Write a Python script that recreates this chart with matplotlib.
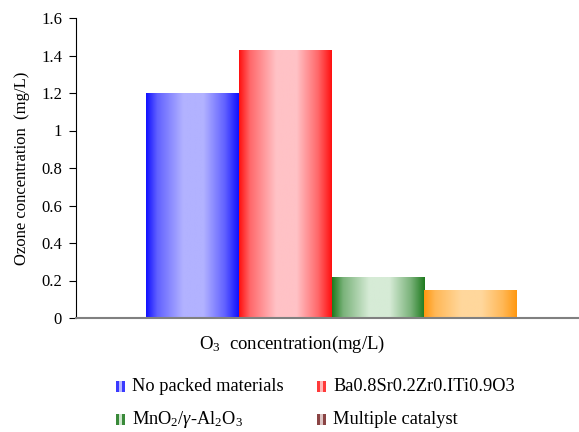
import matplotlib
matplotlib.use("Agg")
import matplotlib.pyplot as plt
import numpy as np
from matplotlib.patches import Rectangle
from matplotlib.colors import to_rgb

plt.rcParams['font.family'] = ['Liberation Serif', 'DejaVu Serif']
plt.rcParams['mathtext.fontset'] = 'custom'
plt.rcParams['mathtext.rm'] = 'Liberation Serif'
plt.rcParams['mathtext.it'] = 'Liberation Serif:italic'

# ozone concentration for each packing
labels = ['No packed materials', 'Ba0.8Sr0.2Zr0.ITi0.9O3',
          r'MnO$_2$/$\gamma$-Al$_2$O$_3$', 'Multiple catalyst']
values = [1.20, 1.43, 0.22, 0.15]
yticks = [0, 0.2, 0.4, 0.6, 0.8, 1, 1.2, 1.4, 1.6]

# gradient colours: (edge, middle)
bar_cols = [('#1010ff', '#b2b2ff'), ('#ff1010', '#ffc2c6'),
            ('#1e7a1e', '#d6ebd6'), ('#ff9810', '#ffd79c')]
key_cols = [('#3a3aff', '#b8b8ff'), ('#ff3a3a', '#ffb8b8'),
            ('#3a8a3a', '#cfe6cf'), ('#8a4444', '#dcc4c4')]


def gradient(edge, mid, n=200):
    e = np.array(to_rgb(edge))
    m = np.array(to_rgb(mid))
    t = np.linspace(0, 1, n)
    # dark edges, light band a bit left of centre
    w = np.interp(t, [0, 0.12, 0.4, 0.62, 0.85, 1.0], [0, 0.5, 1, 1, 0.5, 0])
    row = e[None, :] * (1 - w[:, None]) + m[None, :] * w[:, None]
    return row[None, :, :]


fig = plt.figure(figsize=(5.79, 4.32), dpi=100)
ax = fig.add_axes([76 / 579, 1 - 318 / 432, 1 - 76 / 579, 300 / 432])

x = np.arange(len(values))
bars = ax.bar(x, values, width=1.0, color='none', edgecolor='none')
for b, (edge, mid) in zip(bars, bar_cols):
    im = ax.imshow(gradient(edge, mid),
                   extent=(b.get_x(), b.get_x() + b.get_width(), 0, b.get_height()),
                   aspect='auto', zorder=2)
    im.set_clip_path(b)

ax.set_xlim(-1.255, 4.168)
ax.set_ylim(0, 1.6)
ax.set_yticks(yticks)
ax.set_yticklabels(['%g' % v for v in yticks], fontsize=12)
ax.set_xticks([])
ax.tick_params(axis='y', direction='out', length=5, width=0.8, pad=5)
ax.spines['top'].set_visible(False)
ax.spines['right'].set_visible(False)
ax.spines['left'].set_color('black')
ax.spines['left'].set_linewidth(0.8)
ax.spines['bottom'].set_color('#808080')
ax.spines['bottom'].set_linewidth(1.5)
ax.spines['left'].set_zorder(3)
ax.spines['bottom'].set_zorder(3)

ax.set_ylabel('Ozone concentration  (mg/L)', fontsize=12, labelpad=8)
fig.text(199 / 579, 1 - 344 / 432, r'O$_3$  concentration(mg/L)', fontsize=13.5,
         ha='left', va='center')

# legend drawn as small striped keys in two columns
key_pos = [(116, 381), (317, 381), (116, 414), (317, 414)]
for (px, py), lab, (edge, mid) in zip(key_pos, labels, key_cols):
    sw = 9
    for i, c in enumerate([edge, mid, edge]):
        fig.patches.append(Rectangle(((px + i * sw / 3) / 579, 1 - (py + 11) / 432),
                                     (sw / 3) / 579, 11 / 432,
                                     transform=fig.transFigure,
                                     facecolor=c, edgecolor='none'))
    fig.text((px + 16) / 579, 1 - (py + 5.5) / 432, lab, fontsize=13.2,
             ha='left', va='center')

fig.savefig('out.png', dpi=100)
